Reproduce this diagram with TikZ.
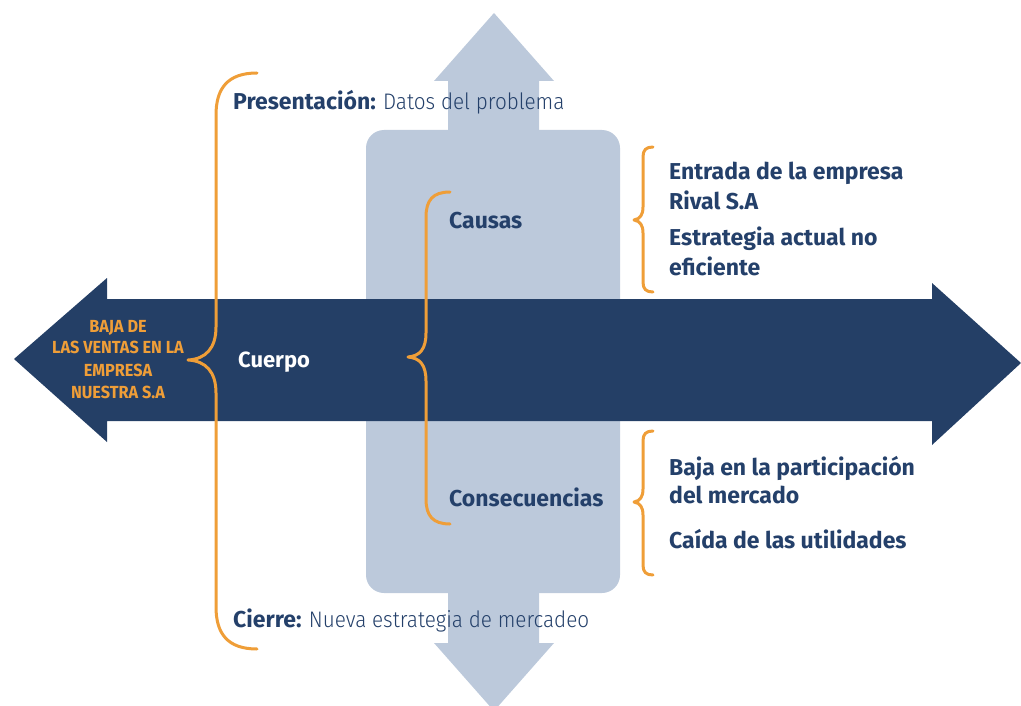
\documentclass[tikz,border=0pt]{standalone}
\usepackage{fontspec}
\setmainfont{Fira Sans}
\newfontfamily\lightfont{Fira Sans Light}[FakeStretch=0.92]
\newfontfamily\condfont{Fira Sans}[FakeStretch=0.93]
\definecolor{navy}{HTML}{243F66}
\definecolor{paleblue}{HTML}{BCC9DB}
\definecolor{brace}{HTML}{EF9E38}
\definecolor{ink}{HTML}{24406A}
\tikzset{
  bracepath/.style={draw=brace, line width=3pt, line cap=round, line join=round},
  lbl/.style={inner sep=0pt, anchor=base west, text=ink, font=\bfseries\fontsize{23}{26}\selectfont},
  lightpart/.style={},
  orangelbl/.style={inner sep=0pt, anchor=base, text=brace, font=\condfont\bfseries\fontsize{17.5}{20}\selectfont},
}
\begin{document}
\begin{tikzpicture}[x=1pt,y=-1pt]
\useasboundingbox (0,0) rectangle (1021,706);
\begin{scope}
\clip (0,0) rectangle (1021,706);
% vertical pale arrow
\fill[paleblue] (494,13) -- (554,81) -- (539,81) -- (539,140) -- (448,140) -- (448,81) -- (434,81) -- cycle;
\fill[paleblue, rounded corners=18pt] (366,130) rectangle (620,593);
\fill[paleblue] (448,585) -- (539,585) -- (539,643) -- (554,643) -- (494,711) -- (434,643) -- (448,643) -- cycle;
% horizontal dark arrow
\fill[navy] (14,359) -- (107,278) -- (107,299) -- (932,299) -- (932,283) -- (1021,363) -- (932,445) -- (932,421) -- (107,421) -- (107,442) -- cycle;
\end{scope}
% braces
\draw[bracepath] (257,73) .. controls (228,73) and (216,88) .. (216,115) -- (216,327)
  .. controls (216,348) and (206,359) .. (188,360)
  .. controls (206,361) and (216,372) .. (216,393) -- (216,607)
  .. controls (216,634) and (228,649) .. (257,649);
\draw[bracepath] (450,192) .. controls (433,192) and (426,200) .. (426,217) -- (426,333)
  .. controls (426,349) and (420,356) .. (408,357)
  .. controls (420,358) and (426,365) .. (426,381) -- (426,499)
  .. controls (426,516) and (433,524) .. (450,524);
\draw[bracepath] (653,147) .. controls (646,147) and (643,150) .. (643,157) -- (643,207)
  .. controls (643,215) and (640,219) .. (634,220)
  .. controls (640,221) and (643,225) .. (643,233) -- (643,282)
  .. controls (643,289) and (646,292) .. (653,292);
\draw[bracepath] (653,431) .. controls (646,431) and (643,434) .. (643,441) -- (643,489)
  .. controls (643,497) and (640,501) .. (634,502)
  .. controls (640,503) and (643,507) .. (643,515) -- (643,565)
  .. controls (643,572) and (646,575) .. (653,575);
% texts
\node[lbl] (pres) at (233,110) {Presentación: {\lightfont\mdseries\fontsize{22.5}{26}\selectfont Datos del problema}};
\node[lbl] (cierre) at (233,627) {Cierre: {\lightfont\mdseries\fontsize{22.5}{26}\selectfont Nueva estrategia de mercadeo}};
\node[lbl] (causas) at (449,229) {Causas};
\node[lbl] (conse) at (449,506) {Consecuencias};
\node[lbl, text=white, font=\bfseries\fontsize{22}{26}\selectfont] (cuerpo) at (238,367) {Cuerpo};
\node[lbl] (c1a) at (669,180) {Entrada de la empresa};
\node[lbl] (c1b) at (669,210) {Rival S.A};
\node[lbl] (c2a) at (669,246) {Estrategia actual no};
\node[lbl] (c2b) at (669,275) {eficiente};
\node[lbl] (k1a) at (669,475) {Baja en la participación};
\node[lbl] (k1b) at (669,503) {del mercado};
\node[lbl] (k2) at (669,548) {Caída de las utilidades};
\node[orangelbl] (o1) at (118,332) {BAJA DE};
\node[orangelbl] (o2) at (118,353) {LAS VENTAS EN LA};
\node[orangelbl] (o3) at (118,376) {EMPRESA};
\node[orangelbl] (o4) at (118,398) {NUESTRA S.A};
\end{tikzpicture}
\end{document}
